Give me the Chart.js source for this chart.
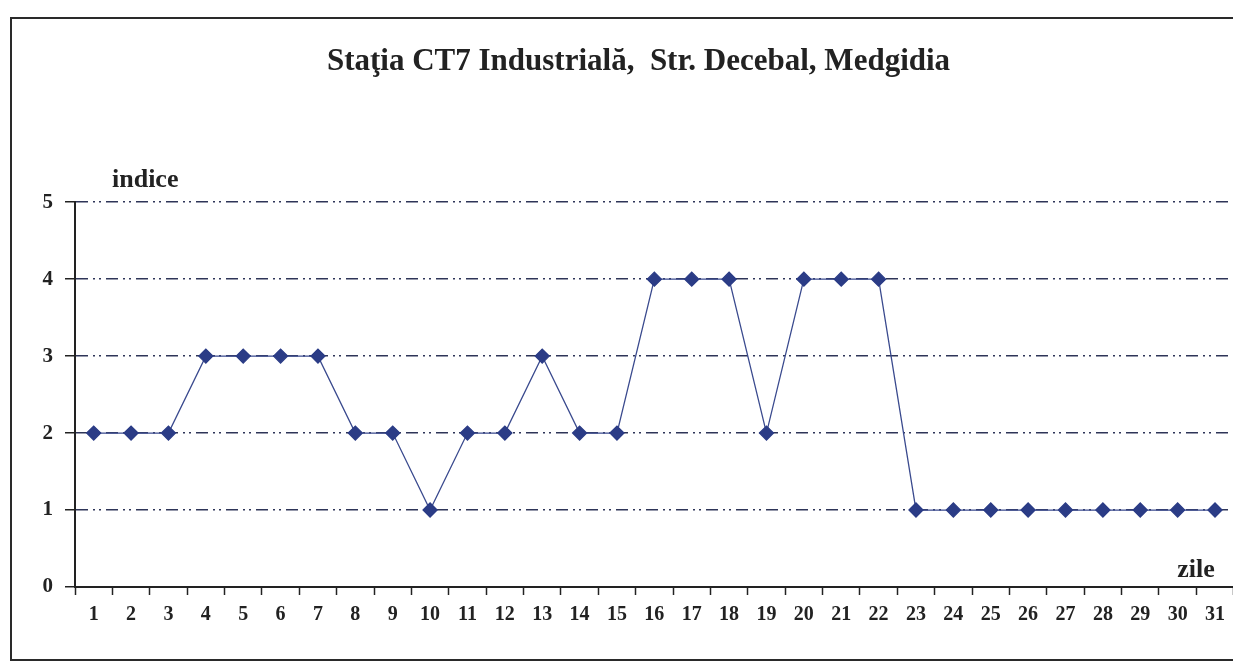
<!DOCTYPE html>
<html>
<head>
<meta charset="utf-8">
<script src="https://cdn.jsdelivr.net/npm/chart.js@4"></script>
<style>
  html, body { margin: 0; padding: 0; background: #fff; overflow: hidden; }
  #frame { position: absolute; left: 10px; top: 17px; width: 1240px; height: 644px;
           border: 2px solid #2a2a2a; border-right: none; box-sizing: border-box; }
  #wrap { position: absolute; left: 0; top: 0; width: 1242px; height: 667px; }
</style>
</head>
<body>
<div id="frame"></div>
<div id="wrap"><canvas id="chart" width="1242" height="667"></canvas></div>
<script>
var zile = ['1','2','3','4','5','6','7','8','9','10','11','12','13','14','15','16',
            '17','18','19','20','21','22','23','24','25','26','27','28','29','30','31'];
var indice = [2,2,2,3,3,3,3,2,2,1,2,2,3,2,2,4,4,4,2,4,4,4,1,1,1,1,1,1,1,1,1];
var titlu = 'Staţia CT7 Industrială,  Str. Decebal, Medgidia';

var serif = '"Liberation Serif", "Times New Roman", serif';

var axisLabels = {
    id: 'axisLabels',
    afterDraw: function (chart) {
        var ctx = chart.ctx, a = chart.chartArea;
        ctx.save();
        ctx.fillStyle = '#222';
        ctx.font = 'bold 26px ' + serif;
        ctx.textBaseline = 'middle';
        ctx.textAlign = 'left';
        ctx.fillText('indice', a.left + 37, a.top - 22);
        ctx.textAlign = 'right';
        ctx.fillText('zile', a.right - 19, a.bottom - 17);
        ctx.restore();
    }
};

new Chart(document.getElementById('chart'), {
    type: 'line',
    data: {
        labels: zile,
        datasets: [{
            data: indice,
            borderColor: '#3a4a8e',
            borderWidth: 1.3,
            pointStyle: 'rectRot',
            pointRadius: 7,
            pointBackgroundColor: '#2b3c86',
            pointBorderColor: '#2b3c86',
            tension: 0
        }]
    },
    options: {
        responsive: false,
        animation: false,
        layout: { padding: { left: 35, right: 0, top: 0, bottom: 30 } },
        plugins: {
            legend: { display: false },
            tooltip: { enabled: false },
            title: {
                display: true,
                text: titlu,
                color: '#222',
                font: { family: serif, size: 31, weight: 'bold' },
                padding: { top: 43, bottom: 122 }
            }
        },
        scales: {
            x: {
                offset: true,
                grid: {
                    offset: true,
                    drawOnChartArea: false,
                    drawTicks: true,
                    tickLength: 8,
                    tickColor: '#222',
                    tickWidth: 1.5
                },
                border: { display: true, color: '#222', width: 2 },
                ticks: {
                    color: '#222',
                    padding: 8,
                    maxRotation: 0,
                    autoSkip: false,
                    font: { family: serif, size: 20, weight: 'bold' }
                },
                afterFit: function (s) { s.height = 50; }
            },
            y: {
                min: 0,
                max: 5,
                ticks: {
                    stepSize: 1,
                    color: '#222',
                    padding: 12,
                    font: { family: serif, size: 21, weight: 'bold' }
                },
                grid: {
                    color: function (c) { return c.tick && c.tick.value === 0 ? 'rgba(0,0,0,0)' : '#2e3558'; },
                    lineWidth: 1.5,
                    tickLength: 10,
                    tickColor: '#222',
                    tickWidth: 1.5,
                    tickBorderDash: []
                },
                border: { display: true, color: '#222', width: 2, dash: [12, 5, 2, 4, 2, 5] },
                afterFit: function (s) { s.width = 40; }
            }
        }
    },
    plugins: [axisLabels]
});
</script>
</body>
</html>
